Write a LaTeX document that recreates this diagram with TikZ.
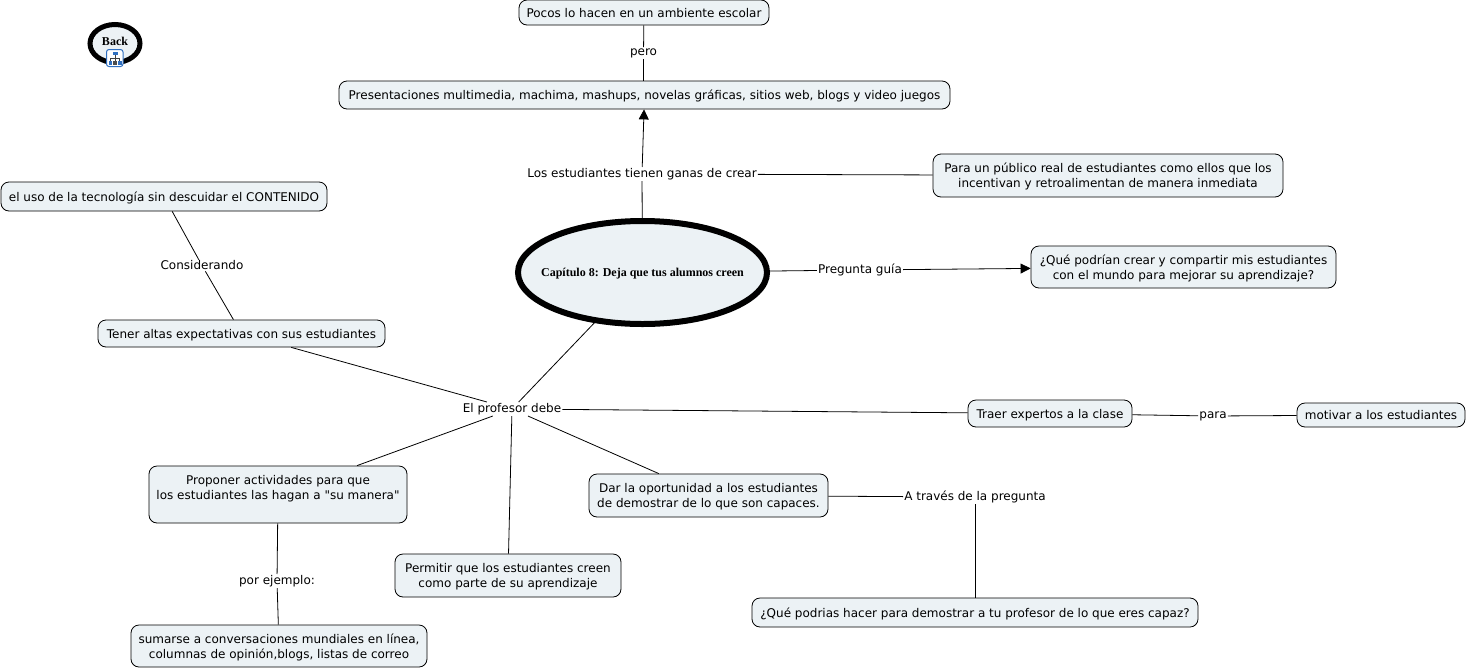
\documentclass[tikz,border=0pt]{standalone}
\usepackage{fontspec}
\setmainfont{DejaVu Sans}[Ligatures=TeXOff]
\newfontfamily\serifb{Liberation Serif}[BoldFont={Liberation Serif Bold}]
\usetikzlibrary{shapes.geometric,arrows.meta}
\definecolor{boxfill}{HTML}{ECF2F5}
\definecolor{iconblue}{HTML}{2F6FC0}
\tikzset{
  x=1pt,y=-1pt,
  every node/.style={font=\fontsize{12}{15}\selectfont,align=center,inner sep=0pt},
  concept/.style={draw=black,fill=boxfill,rounded corners=8pt,line width=0.8pt},
  link/.style={inner sep=1pt},
  conn/.style={draw=black,line width=0.8pt},
  arrowed/.style={conn,-{Triangle[length=10pt,width=10pt]}},
  oval/.style={ellipse,draw=black,fill=boxfill},
}
\newcommand{\cbox}[6]{\node[concept,minimum width=#4 pt-#2 pt,minimum height=#5 pt-#3 pt] (#1) at ({(#2+#4)/2},{(#3+#5)/2}) {\raisebox{-1.5pt}[\height][\depth]{\begin{tabular}{@{}c@{}}#6\end{tabular}}};}
\begin{document}
\begin{tikzpicture}
\useasboundingbox (0,0) rectangle (1468,670);
\fill[white] (0,0) rectangle (1468,670);
\cbox{top}{519}{0}{769}{25}{Pocos lo hacen en un ambiente escolar}
\cbox{multi}{339}{81}{950}{109}{Presentaciones multimedia, machima, mashups, novelas gráficas, sitios web, blogs y video juegos}
\cbox{para}{933}{154}{1283}{197}{Para un público real de estudiantes como ellos que los\\incentivan y retroalimentan de manera inmediata}
\cbox{guia}{1031}{246}{1336}{288}{¿Qué podrían crear y compartir mis estudiantes\\con el mundo para mejorar su aprendizaje?}
\cbox{tec}{1}{182}{327}{211}{el uso de la tecnología sin descuidar el CONTENIDO}
\cbox{tener}{98}{320}{385}{347}{Tener altas expectativas con sus estudiantes}
\cbox{traer}{968}{400}{1132}{427}{Traer expertos a la clase}
\cbox{motivar}{1297}{403}{1465}{427}{motivar a los estudiantes}
\cbox{proponer}{149}{466}{407}{523}{Proponer actividades para que\\los estudiantes las hagan a "su manera"\\~}
\cbox{dar}{589}{474}{828}{517}{Dar la oportunidad a los estudiantes\\de demostrar de lo que son capaces.}
\cbox{permitir}{395}{554}{621}{597}{Permitir que los estudiantes creen\\como parte de su aprendizaje}
\cbox{que}{752}{598}{1198}{627}{¿Qué podrias hacer para demostrar a tu profesor de lo que eres capaz?}
\cbox{sumarse}{131}{625}{427}{667}{sumarse a conversaciones mundiales en línea,\\columnas de opinión,blogs, listas de correo}
\node[oval,line width=6pt,minimum width=249pt,minimum height=103pt] (main) at (642.5,272.5) {\raisebox{-3.5pt}[0pt][0pt]{\makebox[0pt]{\serifb\bfseries\fontsize{12}{14}\selectfont Capítulo 8: Deja que tus alumnos creen}}};
\node[oval,line width=5pt,minimum width=50pt,minimum height=38pt] (back) at (115,43.5) {\raisebox{-2pt}[0pt][0pt]{\makebox[0pt]{\serifb\bfseries\fontsize{12}{14}\selectfont Back}}};
\node[link] (lpero) at (643.5,53) {pero};
\node[link] (lganas) at (642,174) {Los estudiantes tienen ganas de crear};
\node[link] (lguia) at (860,270) {Pregunta guía};
\node[link] (lcons) at (202,265.5) {Considerando};
\node[link] (lprof) at (512,409) {El profesor debe};
\node[link] (lpara) at (1213,416) {para};
\node[link] (ltraves) at (975,497) {A través de la pregunta};
\node[link] (lejem) at (277,581) {por ejemplo:};
\draw[conn] (top) -- (lpero);
\draw[conn] (lpero) -- (multi.north -| lpero);
\draw[arrowed] (lganas) -- (multi);
\draw[conn] (main) -- (lganas);
\draw[conn] (lganas) -- (para);
\draw[conn] (main) -- (lguia);
\draw[arrowed] (lguia) -- (guia);
\draw[conn] (tec) -- (lcons);
\draw[conn] (lcons) -- (tener);
\draw[conn] (main) -- (lprof);
\draw[conn] (tener) -- (lprof);
\draw[conn] (lprof) -- (traer);
\draw[conn] (traer) -- (lpara);
\draw[conn] (lpara) -- (motivar);
\draw[conn] (lprof) -- (proponer);
\draw[conn] (lprof) -- (permitir);
\draw[conn] (lprof) -- (dar);
\draw[conn] (dar) -- (ltraves);
\draw[conn] (ltraves) -- (que);
\draw[conn] (proponer) -- (lejem);
\draw[conn] (lejem) -- (sumarse);
% icon on the Back node
\draw[iconblue,fill=white,line width=1pt,rounded corners=2.5pt] (106.5,49.5) rectangle (123,66.5);
\draw[black!75,line width=0.5pt] (115,54.5) -- (115,58) (110.5,61) -- (110.5,58) -- (119.5,58) -- (119.5,61) (115,58) -- (115,61);
\fill[iconblue] (112.5,51.5) rectangle (117.5,55);
\fill[iconblue] (108.5,60.5) rectangle (112,64.5);
\fill[black!70] (113.3,60.5) rectangle (116.7,64.5);
\fill[iconblue] (118,60.5) rectangle (121.5,64.5);
\end{tikzpicture}
\end{document}
